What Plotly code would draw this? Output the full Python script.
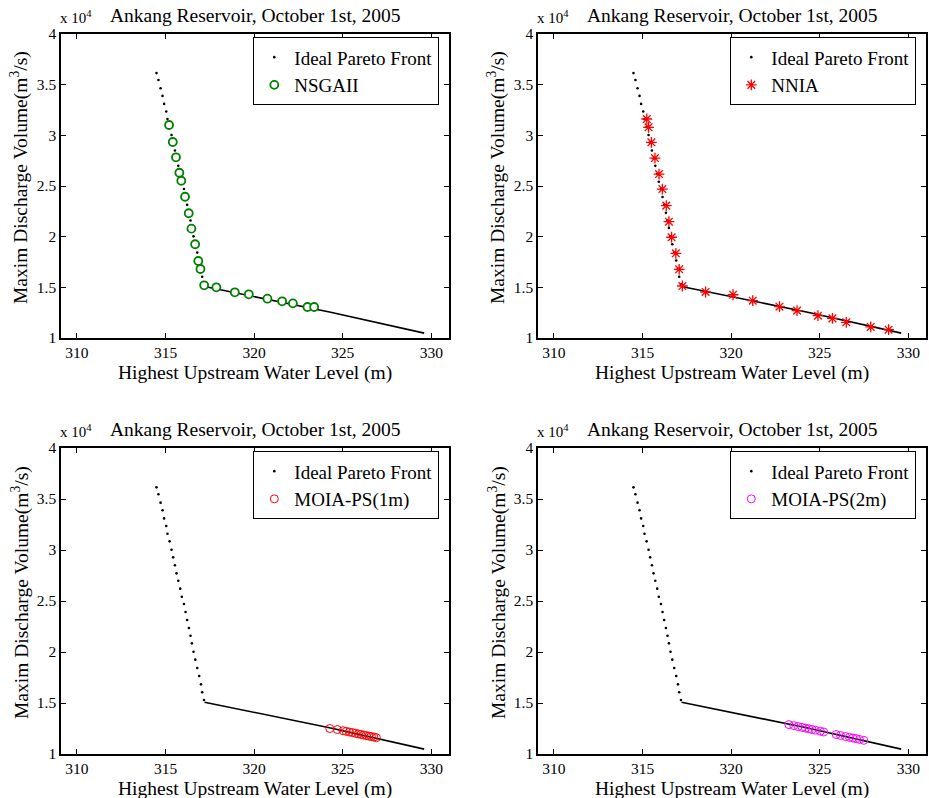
import plotly.graph_objects as go

# ---------------- data ----------------
front_steep_x = [314.49, 314.60, 314.72, 314.83, 314.92, 315.04, 315.11, 315.23, 315.34, 315.43,
                 315.53, 315.62, 315.72, 315.83, 315.92, 316.04, 316.13, 316.22, 316.32, 316.41,
                 316.49, 316.58, 316.68, 316.79, 316.90, 317.00, 317.07, 317.17]
front_steep_y = [36140, 35460, 34640, 33890, 33100, 32350, 31600, 30850, 30030, 29280,
                 28500, 27710, 26990, 26210, 25420, 24710, 23920, 23140, 22350, 21600,
                 20850, 20030, 19250, 18430, 17650, 16830, 16050, 15290]
front_flat_x = [317.20, 320.18, 324.32, 329.60]
front_flat_y = [15080, 14050, 12550, 10480]

nsga_x = [315.20, 315.41, 315.59, 315.78, 315.89, 316.10, 316.31, 316.46, 316.67, 316.85,
          316.97, 317.18, 317.87, 318.91, 319.70, 320.75, 321.58, 322.19, 323.01, 323.39]
nsga_y = [31020, 29340, 27830, 26310, 25520, 23940, 22310, 20790, 19250, 17600,
          16810, 15200, 15000, 14510, 14310, 13880, 13620, 13420, 13060, 13060]

nnia_x = [315.24, 315.34, 315.50, 315.70, 315.93, 316.12, 316.34, 316.49, 316.64, 316.88,
          317.07, 317.25, 318.56, 320.11, 321.22, 322.73, 323.72, 324.90, 325.72, 326.50,
          327.88, 328.89]
nnia_y = [31610, 30790, 29310, 27760, 26180, 24700, 23060, 21480, 19940, 18360,
          16780, 15130, 14540, 14270, 13680, 13090, 12700, 12200, 11940, 11550,
          11090, 10820]

moia1_x = [324.27, 324.70, 325.02, 325.20, 325.38, 325.55, 325.72, 325.88, 326.03, 326.18,
           326.33, 326.48, 326.62, 326.76, 326.90]
moia1_y = [12500, 12400, 12280, 12220, 12150, 12100, 12030, 11970, 11920, 11860,
           11810, 11750, 11710, 11660, 11600]

moia2_x = [323.26, 323.54, 323.78, 324.01, 324.20, 324.39, 324.57, 324.76, 325.04, 325.23,
           325.93, 326.17, 326.46, 326.68, 326.87, 327.06, 327.25, 327.49]
moia2_y = [12880, 12780, 12690, 12610, 12540, 12470, 12400, 12330, 12230, 12160,
           11910, 11820, 11710, 11630, 11570, 11500, 11430, 11340]

x_ticks = [310, 315, 320, 325, 330]
y_ticks = [10000, 15000, 20000, 25000, 30000, 35000, 40000]
y_ticktext = ["1", "1.5", "2", "2.5", "3", "3.5", "4"]

title_text = "Ankang Reservoir, October 1st, 2005"
xlabel = "Highest Upstream Water Level (m)"
ylabel = "Maxim Discharge Volume(m<sup>3</sup>/s)"

# ---------------- layout geometry ----------------
W, H = 929, 798
FONT = "Liberation Serif, Times New Roman, serif"
panels = [  # (left, right, top, bottom) in px
    (61, 449, 34, 338),
    (538, 926, 34, 338),
    (61, 449, 448, 754),
    (538, 926, 448, 754),
]
algos = [
    ("NSGAII", nsga_x, nsga_y, dict(symbol="circle", size=8, color="white",
                                   line=dict(width=1.8, color="#008000"))),
    ("NNIA", nnia_x, nnia_y, dict(symbol="asterisk-open", size=9, color="#ff0000",
                                 line=dict(width=1.3, color="#ff0000"))),
    ("MOIA-PS(1m)", moia1_x, moia1_y, dict(symbol="circle-open", size=8, color="#ff0000",
                                          line=dict(width=1, color="#ff0000"))),
    ("MOIA-PS(2m)", moia2_x, moia2_y, dict(symbol="circle-open", size=8, color="#ff00ff",
                                          line=dict(width=1, color="#ff00ff"))),
]

fig = go.Figure()
annotations = []
layout = {}
for i, ((l, r, t, b), (name, ax, ay, mk)) in enumerate(zip(panels, algos)):
    sfx = "" if i == 0 else str(i + 1)
    xa, ya = "x" + sfx, "y" + sfx
    leg = "legend" + sfx
    fig.add_trace(go.Scatter(x=front_steep_x, y=front_steep_y, mode="markers",
                             marker=dict(size=2.6, color="black"), name="Ideal Pareto Front",
                             xaxis=xa, yaxis=ya, legend=leg))
    fig.add_trace(go.Scatter(x=front_flat_x, y=front_flat_y, mode="lines",
                             line=dict(color="black", width=1.6), showlegend=False,
                             xaxis=xa, yaxis=ya, hoverinfo="skip"))
    fig.add_trace(go.Scatter(x=ax, y=ay, mode="markers", marker=mk, name=name,
                             xaxis=xa, yaxis=ya, legend=leg))
    xd = [l / W, r / W]
    yd = [1 - b / H, 1 - t / H]
    common = dict(showline=True, linecolor="black", linewidth=1.5, mirror="ticks",
                  ticks="inside", ticklen=5, tickwidth=1, tickcolor="black",
                  showgrid=False, zeroline=False, automargin=False,
                  tickfont=dict(family=FONT, size=15.5, color="black"))
    layout["xaxis" + sfx] = dict(domain=xd, range=[309.1, 331.0], tickvals=x_ticks,
                                 anchor=ya, **common)
    layout["yaxis" + sfx] = dict(domain=yd, range=[10000, 40000], tickvals=y_ticks,
                                 ticktext=y_ticktext, anchor=xa, **common)
    layout[leg] = dict(x=(r - 10) / W, y=1 - (t + 3) / H, xanchor="right", yanchor="top",
                       bgcolor="white", bordercolor="black", borderwidth=1.3,
                       font=dict(family=FONT, size=19, color="black"),
                       tracegroupgap=0, itemsizing="trace")
    cx = (l + r) / 2
    annotations.append(dict(text=title_text, x=cx / W, y=1 - (t - 19) / H, xref="paper",
                            yref="paper", showarrow=False, xanchor="center", yanchor="middle",
                            font=dict(family=FONT, size=19.5, color="black")))
    annotations.append(dict(text=xlabel, x=cx / W, y=1 - (b + 35) / H, xref="paper",
                            yref="paper", showarrow=False, xanchor="center", yanchor="middle",
                            font=dict(family=FONT, size=19.5, color="black")))
    annotations.append(dict(text=ylabel, x=(l - 41) / W, y=1 - ((t + b) / 2 - 8) / H,
                            xref="paper", yref="paper", showarrow=False, textangle=-90,
                            xanchor="center", yanchor="middle",
                            font=dict(family=FONT, size=19.5, color="black")))
    annotations.append(dict(text="x 10<sup>4</sup>", x=(l - 3) / W, y=1 - (t - 17) / H,
                            xref="paper", yref="paper", showarrow=False, xanchor="left",
                            yanchor="middle", font=dict(family=FONT, size=15, color="black")))

fig.update_layout(width=W, height=H, margin=dict(l=0, r=0, t=0, b=0),
                  paper_bgcolor="white", plot_bgcolor="white",
                  annotations=annotations, **layout)
fig.write_html("out.html")
